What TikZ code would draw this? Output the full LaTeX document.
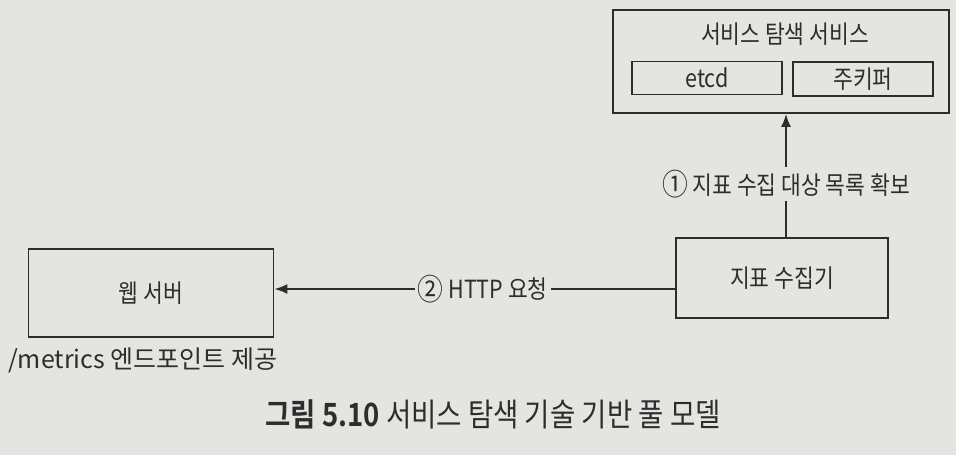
\documentclass[tikz,border=0pt]{standalone}
\usepackage{fontspec}
\usetikzlibrary{arrows.meta}
\setmainfont{Noto Sans CJK KR}
\newfontfamily\kr[FakeStretch=0.86]{Noto Sans CJK KR}
\newfontfamily\krw{Noto Sans CJK KR}
\newfontfamily\krb[FakeStretch=0.86]{Noto Sans CJK KR Bold}
\definecolor{bg}{RGB}{228,228,225}
\definecolor{ink}{RGB}{45,45,45}
\newcommand\circnum[1]{\raisebox{-1.5pt}{\fontsize{30}{30}\selectfont #1}}
\tikzset{
  box/.style={draw=ink, line width=1.8pt, inner sep=0pt, font=\kr\fontsize{25}{28}\selectfont, text=ink},
  lbl/.style={fill=bg, inner sep=3pt, font=\kr\fontsize{25}{28}\selectfont, text=ink},
  plain/.style={inner sep=0pt, font=\kr\fontsize{25}{28}\selectfont, text=ink},
  arr/.style={draw=ink, line width=1.8pt, -{Latex[length=13pt,width=10pt]}}
}
\begin{document}
\begin{tikzpicture}[x=1pt,y=-1pt]
\fill[bg] (0,0) rectangle (956,455);
\useasboundingbox (0,0) rectangle (956,455);
% service discovery
\node[box, minimum width=336pt, minimum height=103pt] (sd) at (781,61.5) {};
\node[plain] (sdt) at (785,34) {서비스 탐색 서비스};
\node[box, minimum width=150pt, minimum height=33pt] (etcd) at (707,78) {etcd};
\node[box, minimum width=140pt, minimum height=34pt] (zk) at (863,79) {주키퍼};
% collector
\node[box, minimum width=212pt, minimum height=80pt] (col) at (782,278) {지표 수집기};
% web server
\node[box, minimum width=245pt, minimum height=88pt] (web) at (151,293) {웹 서버};
\node[plain, anchor=west, font=\krw\fontsize{25}{28}\selectfont] (met) at (8,360) {/metrics 엔드포인트 제공};
% arrows
\coordinate (ax) at (786,0);
\draw[arr] (ax |- col.north) -- node[lbl, pos=0.43] (l1) {\circnum{①} 지표 수집 대상 목록 확보} (ax |- sd.south);
\coordinate (ay) at (0,289);
\draw[arr] (col.west |- ay) -- node[lbl, pos=0.48] (l2) {\circnum{②} HTTP 요청} (web.east |- ay);
% caption
\node[plain, font=\kr\fontsize{32}{36}\selectfont] (cap) at (493,414) {{\krb 그림 5.10} 서비스 탐색 기술 기반 풀 모델};
\end{tikzpicture}
\end{document}
